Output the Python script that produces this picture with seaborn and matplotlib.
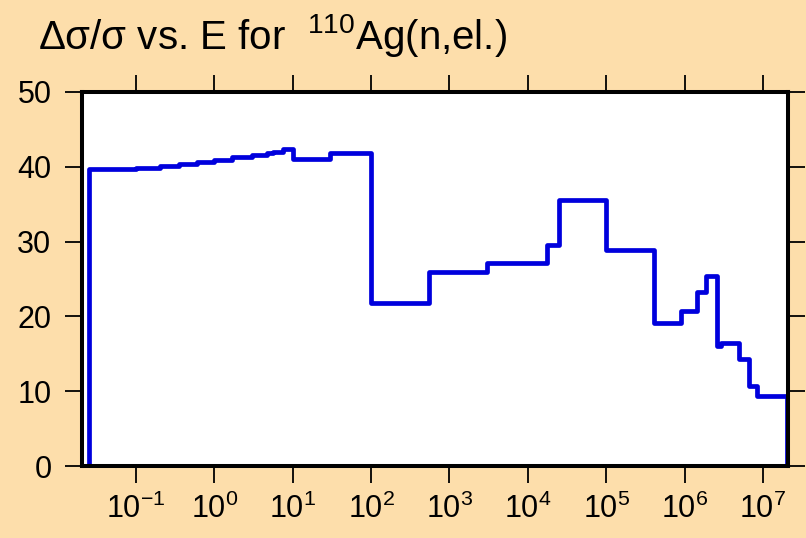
import matplotlib
matplotlib.use("Agg")
import matplotlib.pyplot as plt
import matplotlib.ticker as mticker
import seaborn as sns

# Step boundaries (eV) and relative uncertainty (%) for each group
energy_edges = [0.0253, 0.1, 0.2, 0.35, 0.6, 1.0, 1.7, 3.0, 4.7, 5.6, 7.5, 10,
                30, 100, 550, 3000, 17400, 25000, 1e5, 4.1e5, 9.1e5, 1.42e6,
                1.9e6, 2.57e6, 2.95e6, 4.9e6, 6.6e6, 8.3e6, 2e7]
uncertainty = [39.7, 39.9, 40.1, 40.35, 40.6, 40.9, 41.25, 41.6, 41.9, 42.0, 42.4,
               41.1, 41.8, 21.8, 25.9, 27.1, 29.6, 35.6, 28.9, 19.1, 20.7,
               23.2, 25.4, 16.1, 16.4, 14.3, 10.7, 9.4]
x_ticks = [1e-1, 1e0, 1e1, 1e2, 1e3, 1e4, 1e5, 1e6, 1e7]
y_ticks = [0, 10, 20, 30, 40, 50]

# build closed staircase: rise from 0 at the first edge, drop to 0 at the last
xs = [energy_edges[0]] + energy_edges
ys = [0] + uncertainty + [0]

sns.set_style("ticks")
plt.rcParams['font.family'] = ['Liberation Sans', 'DejaVu Sans']
plt.rcParams['mathtext.fontset'] = 'custom'
plt.rcParams['mathtext.rm'] = 'Liberation Sans'
plt.rcParams['mathtext.it'] = 'Liberation Sans:italic'
plt.rcParams['mathtext.bf'] = 'Liberation Sans:bold'

bg = '#FDDEAB'
fig = plt.figure(figsize=(8.06, 5.38), dpi=100, facecolor=bg)
ax = fig.add_axes([0.1017, 0.1338, 0.8760, 0.6952])
ax.set_facecolor('white')

sns.lineplot(x=xs, y=ys, ax=ax, drawstyle='steps-post', sort=False,
             estimator=None, color='#0000DD', linewidth=3.4)

ax.set_xscale('log')
ax.set_xlim(10 ** -1.69, 10 ** 7.32)
ax.set_ylim(0, 50)
ax.set_xticks(x_ticks)
ax.set_yticks(y_ticks)
ax.xaxis.set_minor_locator(mticker.NullLocator())

for s in ax.spines.values():
    s.set_visible(True)
    s.set_linewidth(2.9)
    s.set_color('black')

ax.tick_params(axis='both', which='major', direction='out', length=12, width=1.3,
               color='black', labelsize=22, labelcolor='black',
               top=True, right=True, bottom=True, left=True)
ax.tick_params(axis='y', pad=10)
ax.tick_params(axis='x', pad=8)
ax.set_xlabel('')
ax.set_ylabel('')

fig.text(0.047, 0.908, '\u0394\u03c3/\u03c3 vs. E for  $^{110}$Ag(n,el.)',
         fontsize=29, color='black', ha='left', va='baseline')

fig.savefig('out.png', dpi=100, facecolor=bg)
